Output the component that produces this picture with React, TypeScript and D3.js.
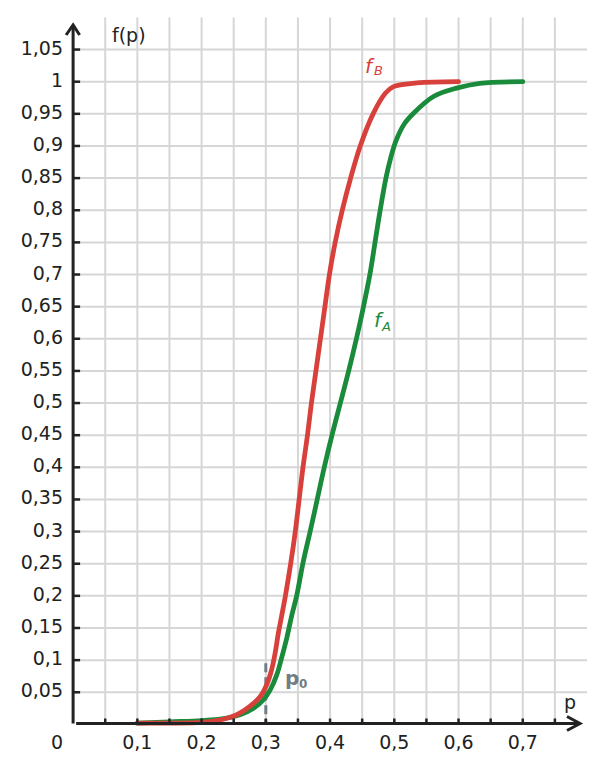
import React, { useEffect, useRef } from 'react';
import * as d3 from 'd3';

const width = 604;
const height = 772;

// f_B (red)
const pB = [0.1, 0.15, 0.2, 0.234, 0.255, 0.275, 0.291, 0.301, 0.309, 0.3145, 0.3195, 0.3245, 0.3305, 0.339, 0.346, 0.352, 0.358, 0.365, 0.371, 0.378, 0.385, 0.392, 0.399, 0.408, 0.419, 0.432, 0.447, 0.467, 0.486, 0.498, 0.535, 0.6];
const fB = [0.002, 0.002, 0.003, 0.008, 0.015, 0.028, 0.043, 0.061, 0.085, 0.111, 0.142, 0.168, 0.2, 0.252, 0.301, 0.351, 0.401, 0.451, 0.5, 0.55, 0.6, 0.65, 0.7, 0.75, 0.8, 0.85, 0.9, 0.95, 0.982, 0.992, 0.998, 1.0];

// f_A (green)
const pA = [0.1, 0.15, 0.2, 0.234, 0.26, 0.281, 0.296, 0.307, 0.317, 0.325, 0.333, 0.34, 0.348, 0.358, 0.369, 0.38, 0.391, 0.403, 0.416, 0.429, 0.441, 0.452, 0.462, 0.47, 0.478, 0.487, 0.494, 0.503, 0.516, 0.53, 0.561, 0.597, 0.633, 0.7];
const fA = [0.002, 0.004, 0.006, 0.009, 0.015, 0.025, 0.038, 0.054, 0.077, 0.105, 0.136, 0.168, 0.2, 0.252, 0.3, 0.35, 0.4, 0.45, 0.5, 0.55, 0.6, 0.65, 0.7, 0.75, 0.8, 0.85, 0.88, 0.909, 0.935, 0.951, 0.977, 0.99, 0.9975, 1.0];

const xTicks = [0.05, 0.1, 0.15, 0.2, 0.25, 0.3, 0.35, 0.4, 0.45, 0.5, 0.55, 0.6, 0.65, 0.7, 0.75];
const xLabels = ['0,1', '0,2', '0,3', '0,4', '0,5', '0,6', '0,7'];
const xLabelValues = [0.1, 0.2, 0.3, 0.4, 0.5, 0.6, 0.7];
const yTicks = d3.range(1, 22).map(i => i * 0.05);
const yLabels = ['0,05', '0,1', '0,15', '0,2', '0,25', '0,3', '0,35', '0,4', '0,45', '0,5', '0,55', '0,6', '0,65', '0,7', '0,75', '0,8', '0,85', '0,9', '0,95', '1', '1,05'];
const p0 = 0.3;

const RED = '#d8403b';
const GREEN = '#1a8b3b';
const GREY = '#707c86';
const AXIS = '#222';
const FONT = 'DejaVu Sans, sans-serif';

export default function App() {
  const svgRef = useRef<SVGSVGElement>(null);

  useEffect(() => {
    if (!svgRef.current) return;
    const svg = d3.select(svgRef.current);
    svg.selectAll('*').remove();

    const x = d3.scaleLinear().domain([0, 0.8]).range([73.1, 73.1 + 0.8 * 642.4]);
    const y = d3.scaleLinear().domain([0, 1.1]).range([724.4, 724.4 - 1.1 * 642.7]);

    // grid
    const grid = svg.append('g').attr('stroke', '#d6d6d6').attr('stroke-width', 2);
    grid.selectAll('line.v').data(xTicks).enter().append('line')
      .attr('x1', d => x(d)).attr('x2', d => x(d))
      .attr('y1', y(1.1)).attr('y2', y(0));
    grid.selectAll('line.h').data(yTicks).enter().append('line')
      .attr('x1', x(0)).attr('x2', x(0.8))
      .attr('y1', d => y(d)).attr('y2', d => y(d));

    // p0 marker
    svg.append('line')
      .attr('x1', x(p0)).attr('x2', x(p0))
      .attr('y1', y(0.095)).attr('y2', y(0))
      .attr('stroke', GREY).attr('stroke-width', 3)
      .attr('stroke-dasharray', '9,5');

    const line = d3.line<[number, number]>()
      .x(d => x(d[0]))
      .y(d => y(d[1]))
      .curve(d3.curveCatmullRom.alpha(0.5));

    svg.append('path')
      .datum(pA.map((p, i) => [p, fA[i]] as [number, number]))
      .attr('fill', 'none').attr('stroke', GREEN).attr('stroke-width', 4.8)
      .attr('stroke-linecap', 'round').attr('stroke-linejoin', 'round')
      .attr('d', line);

    svg.append('path')
      .datum(pB.map((p, i) => [p, fB[i]] as [number, number]))
      .attr('fill', 'none').attr('stroke', RED).attr('stroke-width', 4.8)
      .attr('stroke-linecap', 'round').attr('stroke-linejoin', 'round')
      .attr('d', line);

    // axes
    const ax = svg.append('g').attr('stroke', AXIS).attr('fill', 'none');
    ax.append('line').attr('x1', x(0)).attr('x2', x(0)).attr('y1', y(0) - 1).attr('y2', 25).attr('stroke-width', 3);
    ax.append('path').attr('d', `M${x(0) - 7},35 L${x(0)},25 L${x(0) + 6.5},35`).attr('stroke-width', 3);
    ax.append('line').attr('x1', x(0) + 3).attr('x2', 579).attr('y1', 723.5).attr('y2', 723.5).attr('stroke-width', 3);
    ax.append('path').attr('d', `M567,716.5 L580,723.5 L567,730.5`).attr('stroke-width', 3);

    ax.selectAll('line.yt').data(yTicks).enter().append('line')
      .attr('x1', x(0)).attr('x2', x(0) + 7)
      .attr('y1', d => y(d)).attr('y2', d => y(d))
      .attr('stroke-width', 2.5);
    ax.selectAll('line.xt').data(xTicks).enter().append('line')
      .attr('x1', d => x(d)).attr('x2', d => x(d))
      .attr('y1', 723.5).attr('y2', 718.5)
      .attr('stroke-width', 2.5);

    // labels
    const txt = svg.append('g').attr('font-family', FONT).attr('font-size', 19).attr('fill', AXIS);
    txt.selectAll('text.yl').data(yTicks).enter().append('text')
      .attr('x', 63).attr('y', d => y(d) + 5)
      .attr('text-anchor', 'end')
      .text((d, i) => yLabels[i]);
    txt.append('text').attr('x', 63).attr('y', 749).attr('text-anchor', 'end').text('0');
    txt.selectAll('text.xl').data(xLabelValues).enter().append('text')
      .attr('x', d => x(d)).attr('y', 749)
      .attr('text-anchor', 'middle')
      .text((d, i) => xLabels[i]);
    txt.append('text').attr('x', 112).attr('y', 42).text('f(p)');
    txt.append('text').attr('x', 564).attr('y', 709).text('p');

    const fBLabel = svg.append('text').attr('font-family', FONT).attr('fill', RED).attr('font-style', 'italic');
    fBLabel.append('tspan').attr('x', 365).attr('y', 73).attr('font-size', 20).text('f');
    fBLabel.append('tspan').attr('x', 374).attr('y', 75).attr('font-size', 13).text('B');

    const fALabel = svg.append('text').attr('font-family', FONT).attr('fill', GREEN).attr('font-style', 'italic');
    fALabel.append('tspan').attr('x', 374).attr('y', 327).attr('font-size', 20).text('f');
    fALabel.append('tspan').attr('x', 382).attr('y', 331).attr('font-size', 13).text('A');

    const p0Label = svg.append('text').attr('font-family', FONT).attr('fill', GREY).attr('font-weight', 'bold');
    p0Label.append('tspan').attr('x', 285).attr('y', 685).attr('font-size', 20).text('p');
    p0Label.append('tspan').attr('x', 299).attr('y', 688).attr('font-size', 12).text('0');
  }, []);

  return (
    <svg
      ref={svgRef}
      width={width}
      height={height}
      style={{ position: 'absolute', left: 0, top: 0, background: '#fff' }}
    />
  );
}
